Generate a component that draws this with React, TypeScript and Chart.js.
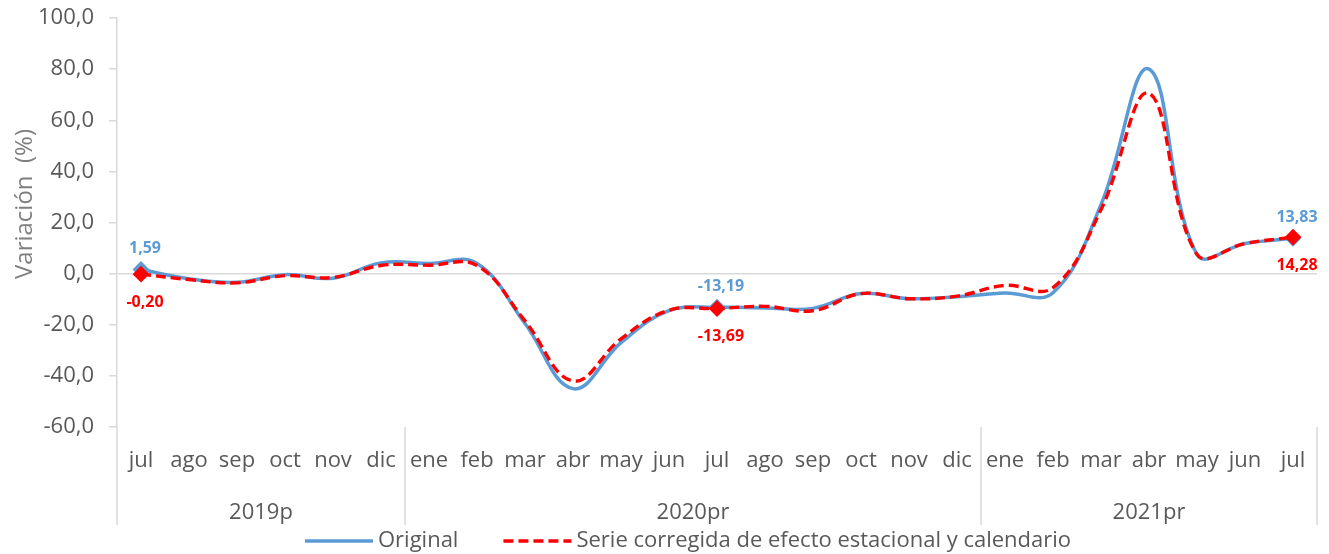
import React, { useEffect, useRef } from 'react';
import { Chart, registerables } from 'chart.js';

Chart.register(...registerables);

const months = ['jul', 'ago', 'sep', 'oct', 'nov', 'dic', 'ene', 'feb', 'mar', 'abr', 'may', 'jun', 'jul', 'ago', 'sep', 'oct', 'nov', 'dic', 'ene', 'feb', 'mar', 'abr', 'may', 'jun', 'jul'];
const yearLabels = ['2019p', '2020pr', '2021pr'];
const yearSpans = [6, 12, 7];
const originalValues = [1.59, -2.0, -3.4, -0.4, -1.8, 4.2, 4.0, 4.0, -19.5, -45.0, -27.0, -14.5, -13.19, -13.4, -13.6, -7.8, -9.8, -9.0, -7.6, -7.5, 27.0, 80.0, 7.5, 11.8, 13.83];
const correctedValues = [-0.2, -2.3, -3.6, -0.8, -1.5, 3.2, 3.3, 3.2, -18.5, -42.0, -25.5, -14.3, -13.69, -12.8, -14.5, -7.8, -9.8, -8.8, -4.6, -5.5, 25.0, 70.5, 7.5, 11.8, 14.28];
const labeledIndices = [0, 12, 24];
const seriesNames = ['Original', 'Serie corregida de efecto estacional y calendario'];
const yTitle = 'Variación  (%)';
const yMin = -60;
const yMax = 100;
const yStep = 20;

const FONT = "'Open Sans', 'Noto Sans', sans-serif";
const BLUE = '#5B9BD5';
const RED = '#FF0000';
const TEXT = '#595959';
const GRID = '#D9D9D9';

const fmt = (v: number, d: number) => v.toFixed(d).replace('.', ',');

const extrasPlugin = {
  id: 'extras',
  afterDraw(chart: any) {
    const ctx = chart.ctx;
    const xs = chart.scales.x;
    const area = chart.chartArea;
    ctx.save();

    // data labels
    chart.data.datasets.forEach((ds: any, di: number) => {
      const meta = chart.getDatasetMeta(di);
      ctx.font = `bold 16px ${FONT}`;
      ctx.fillStyle = ds.borderColor;
      ctx.textAlign = 'center';
      ctx.textBaseline = 'middle';
      labeledIndices.forEach((i) => {
        const el = meta.data[i];
        const dy = ds.labelAbove ? -21 : 28;
        ctx.fillText(fmt(ds.data[i], 2), el.x + 4, el.y + dy);
      });
    });

    // category group separators
    const bottom = area.bottom + 98;
    ctx.strokeStyle = GRID;
    ctx.lineWidth = 1.5;
    let start = 0;
    const bounds = [0];
    yearSpans.forEach((s) => { start += s; bounds.push(start); });
    bounds.forEach((b) => {
      const x = Math.round(xs.getPixelForValue(b - 0.5));
      ctx.beginPath();
      ctx.moveTo(x, area.bottom);
      ctx.lineTo(x, bottom);
      ctx.stroke();
    });

    // year labels
    ctx.font = `22px ${FONT}`;
    ctx.fillStyle = TEXT;
    ctx.textAlign = 'center';
    ctx.textBaseline = 'middle';
    yearLabels.forEach((lab, k) => {
      const s = bounds[k];
      const cx = xs.getPixelForValue(s + (yearSpans[k] - 1) / 2);
      ctx.fillText(lab, cx, area.bottom + 86);
    });

    // y axis title
    ctx.save();
    ctx.translate(25, area.top + 186);
    ctx.rotate(-Math.PI / 2);
    ctx.font = `24px ${FONT}`;
    ctx.fillStyle = '#7F7F7F';
    ctx.textAlign = 'center';
    ctx.textBaseline = 'middle';
    ctx.fillText(yTitle, 0, 0);
    ctx.restore();

    // legend
    const ly = 541;
    let lx = 305;
    ctx.font = `22px ${FONT}`;
    ctx.textAlign = 'left';
    ctx.textBaseline = 'middle';
    chart.data.datasets
      .slice()
      .sort((a: any, b: any) => a.legendOrder - b.legendOrder)
      .forEach((ds: any) => {
        ctx.strokeStyle = ds.borderColor;
        ctx.lineWidth = 3.5;
        ctx.setLineDash(ds.borderDash || []);
        ctx.beginPath();
        ctx.moveTo(lx, ly);
        ctx.lineTo(lx + 68, ly);
        ctx.stroke();
        ctx.setLineDash([]);
        ctx.fillStyle = TEXT;
        ctx.fillText(ds.label, lx + 73, ly);
        lx += 73 + ctx.measureText(ds.label).width + 45;
      });

    ctx.restore();
  },
};

export default function App() {
  const ref = useRef<HTMLCanvasElement | null>(null);

  useEffect(() => {
    document.body.style.margin = '0';
    if (!ref.current) return;
    const pointRadius = (c: any) => (labeledIndices.includes(c.dataIndex) ? 6 : 0);
    const chart = new Chart(ref.current, {
      type: 'line',
      data: {
        labels: months,
        datasets: [
          {
            label: seriesNames[0],
            data: originalValues,
            borderColor: BLUE,
            backgroundColor: BLUE,
            borderWidth: 3.5,
            tension: 0.4,
            pointStyle: 'rectRot',
            pointRadius,
            pointHoverRadius: pointRadius,
            pointBackgroundColor: BLUE,
            pointBorderColor: BLUE,
            order: 1,
            labelAbove: true,
            legendOrder: 0,
          } as any,
          {
            label: seriesNames[1],
            data: correctedValues,
            borderColor: RED,
            backgroundColor: RED,
            borderWidth: 3.4,
            borderDash: [10, 5],
            tension: 0.4,
            pointStyle: 'rectRot',
            pointRadius,
            pointHoverRadius: pointRadius,
            pointBackgroundColor: RED,
            pointBorderColor: RED,
            order: 0,
            labelAbove: false,
            legendOrder: 1,
          } as any,
        ],
      },
      options: {
        animation: false,
        responsive: true,
        maintainAspectRatio: false,
        layout: { padding: { top: 18, right: 12, bottom: 0, left: 0 } },
        plugins: {
          legend: { display: false },
          tooltip: { enabled: false },
        },
        scales: {
          x: {
            type: 'category',
            offset: true,
            grid: { display: false, drawTicks: false },
            border: { display: false },
            ticks: {
              font: { family: FONT, size: 22 },
              color: TEXT,
              padding: 21,
              maxRotation: 0,
              autoSkip: false,
            },
            afterFit: (s: any) => { s.height = 127; s.paddingLeft = 0; s.paddingRight = 0; },
          },
          y: {
            min: yMin,
            max: yMax,
            ticks: {
              stepSize: yStep,
              font: { family: FONT, size: 22 },
              color: TEXT,
              padding: 15,
              callback: (v: any) => fmt(Number(v), 1),
            },
            grid: {
              color: (c: any) => (c.tick && c.tick.value === 0 ? GRID : 'rgba(0,0,0,0)'),
              tickColor: GRID,
              tickLength: 8,
              lineWidth: 1.5,
            },
            border: { display: true, color: GRID, width: 1.5 },
            title: { display: false },
            afterFit: (s: any) => { s.width = 117; s.paddingTop = 0; s.paddingBottom = 0; },
          },
        },
      },
      plugins: [extrasPlugin],
    });
    return () => chart.destroy();
  }, []);

  return (
    <div style={{ width: 1329, height: 554, position: 'relative' }}>
      <canvas ref={ref} />
    </div>
  );
}
